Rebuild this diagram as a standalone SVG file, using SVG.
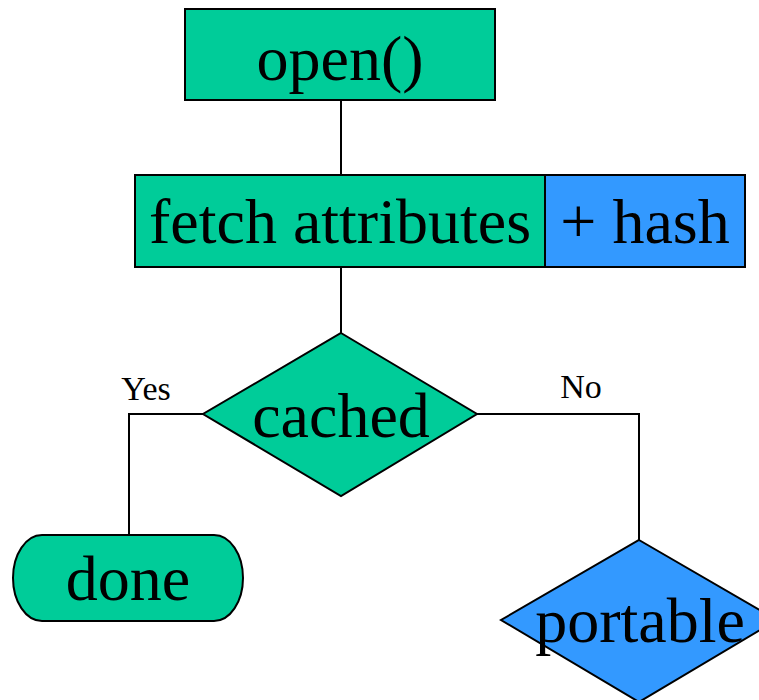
<svg xmlns="http://www.w3.org/2000/svg" width="759" height="700" viewBox="0 0 759 700">
  <style>
    .green { fill: #00CC99; stroke: #000; stroke-width: 2; }
    .blue { fill: #3399FF; stroke: #000; stroke-width: 2; }
    .big { font-family: "Liberation Serif", "Times New Roman", serif; font-size: 64px; fill: #000; text-anchor: middle; }
    .small { font-family: "Liberation Serif", "Times New Roman", serif; font-size: 34px; fill: #000; text-anchor: middle; }
    .wire { fill: none; stroke: #000; stroke-width: 2; }
  </style>
  <rect width="759" height="700" fill="#fff"/>

  <!-- connectors -->
  <g id="connectors">
    <line class="wire" x1="341" y1="100" x2="341" y2="175"/>
    <line class="wire" x1="341" y1="267" x2="341" y2="333"/>
    <polyline class="wire" points="203,414 129,414 129,535"/>
    <polyline class="wire" points="477,414 639,414 639,540"/>
    <text class="small" x="146" y="400">Yes</text>
    <text class="small" x="581" y="398">No</text>
  </g>

  <g id="open">
    <rect class="green" x="185" y="9" width="310" height="91"/>
    <text class="big" x="340" y="80">open()</text>
  </g>

  <g id="fetch">
    <rect class="green" x="135" y="175" width="410" height="92"/>
    <rect class="blue" x="545" y="175" width="200" height="92"/>
    <text class="big" x="340" y="243">fetch attributes</text>
    <text class="big" x="645" y="243">+ hash</text>
  </g>

  <g id="cached">
    <polygon class="green" points="341,333 477,414 341,496 203,414"/>
    <text class="big" x="341" y="437">cached</text>
  </g>

  <g id="done">
    <path class="green" d="M42,535 H214 A29,43 0 0 1 214,621 H42 A29,43 0 0 1 42,535 Z"/>
    <text class="big" x="128" y="600">done</text>
  </g>

  <g id="portable">
    <polygon class="blue" points="639,540 777,620 639,702 501,620"/>
    <text class="big" x="640" y="642">portable</text>
  </g>
</svg>
